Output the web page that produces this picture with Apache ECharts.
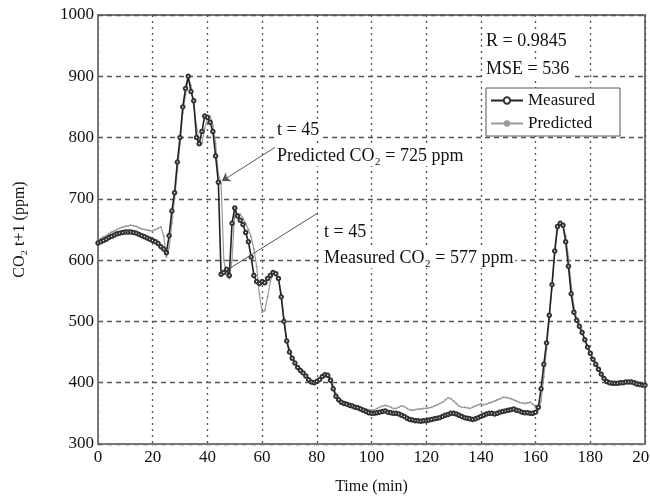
<!DOCTYPE html>
<html><head><meta charset="utf-8">
<script src="https://cdn.jsdelivr.net/npm/echarts@6/dist/echarts.min.js"></script>
<style>html,body{margin:0;padding:0;background:#fff}#c{width:650px;height:500px}</style>
</head><body><div id="c"></div>
<script>
// CO2 (ppm), sampled each minute from t = 0 to t = 200 min
const T0 = 0, DT = 1;
const measured = [
628,630,632,634,637,639,641,643,644,645,
646,646,646,645,644,642,640,638,636,634,
632,630,627,622,618,612,640,680,710,760,
800,850,880,900,875,860,800,790,810,835,
833,825,810,770,727,577,580,585,575,660,
685,672,665,658,645,630,605,575,565,562,
565,563,570,575,580,578,570,540,500,468,
450,440,432,425,420,416,411,405,401,400,
402,405,410,413,412,404,390,378,372,368,
366,365,363,362,360,359,357,355,353,351,
350,350,351,352,353,354,352,351,350,350,
349,347,345,342,340,339,338,338,337,338,
338,339,340,341,342,343,345,347,348,350,
350,349,347,345,343,342,341,340,341,343,
345,347,349,350,350,349,350,352,353,354,
355,356,357,355,354,352,351,351,350,350,
352,360,390,430,465,510,560,615,655,660,
657,630,590,545,515,502,492,482,470,458,
448,438,430,422,414,407,402,400,399,399,
399,400,400,401,401,401,400,398,397,396,
396];
const predicted = [
632,635,638,640,643,646,648,650,652,654,
655,656,657,656,655,653,651,650,649,648,
648,650,652,654,640,605,620,660,700,745,
790,840,870,895,885,850,820,795,790,815,
830,835,820,790,740,725,600,575,570,600,
680,675,675,668,660,650,638,618,590,545,
515,518,540,565,578,577,570,545,505,470,
455,442,433,426,420,416,411,406,402,400,
401,404,410,413,413,408,395,382,375,370,
368,367,366,364,362,361,360,358,357,356,
355,356,358,360,362,363,362,360,358,358,
360,362,361,358,356,355,356,357,357,358,
358,359,360,362,364,366,368,372,375,374,
370,366,362,360,360,359,358,360,362,364,
365,364,365,367,368,370,372,374,376,376,
375,374,372,370,368,367,366,367,368,365,
360,355,370,410,455,505,555,610,650,662,
655,640,605,560,525,505,495,485,472,460,
450,440,432,424,416,409,404,401,400,400,
400,401,401,402,403,404,403,402,400,398,
397];
const seriesNames = ['Measured', 'Predicted'];
const statsText = ['R = 0.9845', 'MSE = 536'];
const noteText = [['t = 45', 'Predicted CO\u2082 = 725 ppm'], ['t = 45', 'Measured CO\u2082 = 577 ppm']];
// annotation pointer lines in data coordinates [time, ppm]
const predPointer = [[64.7, 784], [45.3, 729]];
const measPointer = [[80.4, 677], [48.3, 587]];

const toPairs = arr => arr.map((v, i) => [T0 + i * DT, v]);
const FONT = "'Liberation Serif', 'DejaVu Serif', serif";
const chart = echarts.init(document.getElementById('c'), null, {renderer: 'canvas'});

const txt = (t, left, top, size) => ({
  type: 'text', left, top, z: 50,
  style: {text: t, font: size + 'px ' + FONT, fill: '#111', backgroundColor: '#fff', padding: [1, 2]}
});

chart.setOption({
  animation: false,
  backgroundColor: '#fff',
  grid: {left: 98, right: 5, top: 15, bottom: 56, show: true, borderColor: '#777', borderWidth: 2,
         containLabel: false, outerBoundsMode: 'none'},
  xAxis: {
    type: 'value', min: 0, max: 200, interval: 20,
    name: 'Time (min)', nameLocation: 'middle', nameGap: 35,
    nameTextStyle: {fontFamily: FONT, fontSize: 16, color: '#111'},
    axisLine: {lineStyle: {color: '#777', width: 2}},
    axisTick: {show: false},
    axisLabel: {fontFamily: FONT, fontSize: 17, color: '#111', margin: 5},
    splitLine: {lineStyle: {color: '#555', type: [2, 4], width: 1.3}}
  },
  yAxis: {
    type: 'value', min: 300, max: 1000, interval: 100,
    name: 'CO\u2082 t+1 (ppm)', nameLocation: 'middle', nameGap: 70, nameRotate: 90,
    nameTextStyle: {fontFamily: FONT, fontSize: 16, color: '#111'},
    axisLine: {show: true, lineStyle: {color: '#777', width: 2}},
    axisTick: {show: true, inside: true, length: 3, lineStyle: {color: '#555'}},
    axisLabel: {fontFamily: FONT, fontSize: 17, color: '#111', margin: 4, formatter: v => String(v)},
    splitLine: {lineStyle: {color: '#555', type: [5, 4], width: 1.3}}
  },
  legend: {
    data: seriesNames, orient: 'vertical', left: 486, top: 88,
    itemWidth: 32, itemHeight: 8, itemGap: 6,
    padding: [4, 25, 4, 4],
    borderColor: '#555', borderWidth: 1, backgroundColor: '#fff',
    textStyle: {fontFamily: FONT, fontSize: 17, color: '#111'},
    z: 60
  },
  series: [
    {
      name: seriesNames[1], type: 'line', data: toPairs(predicted),
      symbol: 'circle', symbolSize: 2, showSymbol: true,
      lineStyle: {color: '#9a9a9a', width: 1.2},
      itemStyle: {color: '#9a9a9a'},
      z: 3,
      markLine: {
        silent: true, animation: false,
        label: {show: false},
        lineStyle: {color: '#555', width: 1, type: 'solid'},
        symbolSize: 8,
        data: [
          [{coord: predPointer[0], symbol: 'none'}, {coord: predPointer[1], symbol: 'arrow'}],
          [{coord: measPointer[0], symbol: 'none'}, {coord: measPointer[1], symbol: 'none'}]
        ]
      }
    },
    {
      name: seriesNames[0], type: 'line', data: toPairs(measured),
      symbol: 'emptyCircle', symbolSize: 3.5, showSymbol: true,
      lineStyle: {color: '#222', width: 1.6},
      itemStyle: {color: '#333', borderWidth: 1},
      z: 4
    }
  ],
  graphic: [
    txt(statsText[0], 484, 31, 18),
    txt(statsText[1], 484, 59, 18),
    txt(noteText[0][0], 275, 120, 18),
    txt(noteText[0][1], 275, 146, 18),
    txt(noteText[1][0], 322, 222, 18),
    txt(noteText[1][1], 322, 248, 18)
  ]
});
</script>
</body></html>
